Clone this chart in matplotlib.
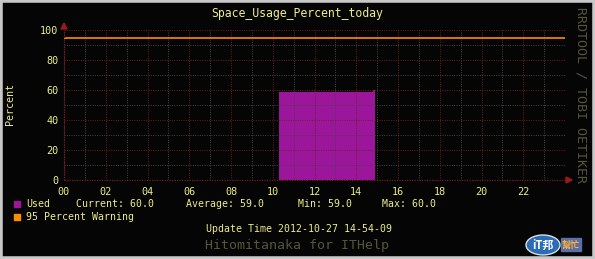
import matplotlib
matplotlib.use("Agg")
import matplotlib.pyplot as plt
from matplotlib.patches import Rectangle, Ellipse, Polygon
from matplotlib.ticker import MultipleLocator

# ---- data ----
hours = [10.3, 14.82, 14.92]
used = [59, 60, 60]
warning_level = 95
x_ticks = [0, 2, 4, 6, 8, 10, 12, 14, 16, 18, 20, 22]
x_tick_labels = ["00", "02", "04", "06", "08", "10", "12", "14", "16", "18", "20", "22"]
y_ticks = [0, 20, 40, 60, 80, 100]
legend_stats = ["Current: 60.0", "Average: 59.0", "Min: 59.0", "Max: 60.0"]
title = "Space_Usage_Percent_today"
update_text = "Update Time 2012-10-27 14-54-09"
credit_text = "Hitomitanaka for ITHelp"
side_text = "RRDTOOL / TOBI OETIKER"

W, H = 595, 259
YEL = "#eeee88"
PURPLE = "#9b169b"
ORANGE = "#ff8c00"
MAJ = "#6e1e1e"
MIN = "#444444"
MONO = "DejaVu Sans Mono"

fig = plt.figure(figsize=(W / 100, H / 100), dpi=100, facecolor="#050505")

def fx(px):
    return px / W

def fy(py):
    return 1 - py / H

# border
fig.patches.append(Rectangle((0, 0), 1, 1, transform=fig.transFigure,
                             fill=False, edgecolor="#c8c8c8", linewidth=4, zorder=10))

ax = fig.add_axes([fx(64), fy(180), fx(565) - fx(64), fy(30) - fy(180)])
ax.set_facecolor("#050505")
ax.set_xlim(0, 24)
ax.set_ylim(0, 100)

ax.fill_between(hours, used, 0, step="post", color=PURPLE, linewidth=0, zorder=1)
ax.axhline(warning_level, color=ORANGE, linewidth=1.2, zorder=3)

ax.xaxis.set_major_locator(MultipleLocator(2))
ax.xaxis.set_minor_locator(MultipleLocator(1))
ax.yaxis.set_major_locator(MultipleLocator(20))
ax.yaxis.set_minor_locator(MultipleLocator(10))
ax.set_xticks(x_ticks)
ax.set_xticklabels(x_tick_labels)
ax.set_yticks(y_ticks)
ax.grid(which="minor", color=MIN, linestyle=(0, (1, 1.4)), linewidth=0.7, zorder=2)
ax.grid(which="major", color=MAJ, linestyle=(0, (1, 1.4)), linewidth=0.7, zorder=2)
ax.set_axisbelow(False)
for sp in ax.spines.values():
    sp.set_visible(False)
ax.tick_params(which="both", length=0, colors=YEL, labelsize=7.3, pad=4)
ax.tick_params(axis="x", pad=5)
for lab in ax.get_xticklabels() + ax.get_yticklabels():
    lab.set_family(MONO)
    lab.set_color(YEL)

# axis lines and arrows
ax.plot([0, 24], [0, 0], color=MAJ, linewidth=0.9, linestyle=(0, (1, 1)), clip_on=False, zorder=4)
ax.plot([0, 0], [0, 100], color=MAJ, linewidth=0.9, linestyle=(0, (1, 1)), clip_on=False, zorder=4)
fig.patches.append(Polygon([[fx(61), fy(29)], [fx(67), fy(29)], [fx(64), fy(23)]],
                           closed=True, transform=fig.transFigure, color="#9a1a1a"))
fig.patches.append(Polygon([[fx(566), fy(177)], [fx(566), fy(183)], [fx(572), fy(180)]],
                           closed=True, transform=fig.transFigure, color="#9a1a1a"))

# texts
fig.text(fx(297), fy(13), title, color=YEL, family=MONO, fontsize=8.3, ha="center", va="center")
fig.text(fx(10), fy(104), "Percent", color=YEL, family=MONO, fontsize=7.2,
         rotation=90, ha="center", va="center")
fig.text(fx(581), fy(95), side_text, color="#55553a", family=MONO, fontsize=9.6,
         rotation=270, ha="center", va="center")

# legend
fig.patches.append(Rectangle((fx(14), fy(207)), fx(6), 6 / H, transform=fig.transFigure,
                             color=PURPLE))
fig.patches.append(Rectangle((fx(14), fy(219.5)), fx(6), 6 / H, transform=fig.transFigure,
                             color=ORANGE))
fig.text(fx(26.5), fy(204), "Used", color=YEL, family=MONO, fontsize=7.1, va="center")
for x0, s in zip([76.5, 186.5, 297.5, 382.5], legend_stats):
    fig.text(fx(x0), fy(204), s, color=YEL, family=MONO, fontsize=7.1, va="center")
fig.text(fx(26.5), fy(216.5), "95 Percent Warning", color=YEL, family=MONO, fontsize=7.1, va="center")
fig.text(fx(299), fy(229), update_text, color=YEL, family=MONO, fontsize=7.1,
         ha="center", va="center")
fig.text(fx(297), fy(245.5), credit_text, color="#55553a", family=MONO, fontsize=9.5,
         ha="center", va="center")

# logo
fig.patches.append(Ellipse((fx(543), fy(245)), fx(34), 20 / H, transform=fig.transFigure,
                           facecolor="#2a6cb8", edgecolor="#dddddd", linewidth=1))
fig.text(fx(543), fy(245), "iT邦", color="white", fontsize=8, fontweight="bold",
         family=["Noto Sans CJK TC", "DejaVu Sans"], ha="center", va="center", style="italic")
fig.patches.append(Rectangle((fx(561), fy(251)), fx(20), 13 / H, transform=fig.transFigure,
                             color="#5a6fa8"))
fig.text(fx(571), fy(245), "幫忙", color="#ffb030", fontsize=6.5, fontweight="bold",
         family=["Noto Sans CJK TC", "DejaVu Sans"], ha="center", va="center")

fig.savefig("out.png", dpi=100, facecolor=fig.get_facecolor())
